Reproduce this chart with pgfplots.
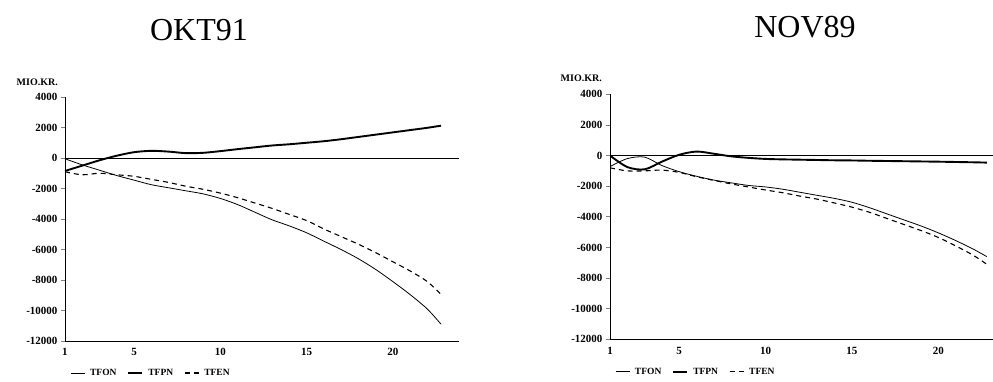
\documentclass[border=0pt]{standalone}
\usepackage{fontspec}
\setmainfont{Liberation Serif}
\usepackage{pgfplots}
\pgfplotsset{compat=1.18}
\usepackage{pgfplotstable}

% Left chart (OKT91)
\pgfplotstableread{
x tfon tfpn tfen
1 -50 -850 -900
2 -450 -500 -1100
3 -800 -150 -1000
4 -1150 150 -1100
5 -1450 380 -1200
6 -1750 470 -1400
7 -1950 420 -1600
8 -2150 320 -1850
9 -2350 340 -2050
10 -2650 450 -2300
11 -3050 580 -2600
12 -3550 700 -2950
13 -4050 820 -3300
14 -4450 900 -3700
15 -4900 1000 -4100
16 -5450 1100 -4650
17 -6000 1230 -5150
18 -6600 1380 -5650
19 -7300 1530 -6200
20 -8100 1680 -6800
21 -8950 1830 -7400
22 -9900 1980 -8100
22.8 -10900 2120 -8950
}\okt

% Right chart (NOV89)
\pgfplotstableread{
x tfon tfpn tfen
1 -720 0 -800
2 -200 -750 -1000
3 -100 -900 -1000
4 -650 -400 -950
5 -1050 50 -1100
6 -1350 260 -1380
7 -1600 120 -1620
8 -1780 -50 -1850
9 -1950 -150 -2050
10 -2050 -220 -2250
11 -2200 -250 -2430
12 -2400 -270 -2650
13 -2600 -290 -2850
14 -2800 -310 -3100
15 -3050 -320 -3370
16 -3400 -340 -3700
17 -3800 -355 -4100
18 -4200 -370 -4500
19 -4600 -385 -4900
20 -5050 -400 -5350
21 -5550 -420 -5900
22 -6100 -440 -6500
22.8 -6600 -460 -7100
}\nov

\pgfplotsset{
  mystyle/.style={
    scale only axis,
    ymin=-12000, ymax=4000,
    xmin=1,
    scaled y ticks=false, scaled x ticks=false,
    axis x line=bottom, axis y line=left,
    axis line style={-, line width=0.8pt},
    ytick={-12000,-10000,-8000,-6000,-4000,-2000,0,2000,4000},
    yticklabels={-12000,-10000,-8000,-6000,-4000,-2000,0,2000,4000},
    xtick={1,5,10,15,20},
    xticklabels={1,5,10,15,20},
    tick align=outside,
    major tick length=4pt,
    x tick style={draw=none},
    y tick style={line width=0.8pt},
    tick label style={font=\fontsize{11}{11}\selectfont\bfseries},
    legend columns=3,
    legend style={draw=none, fill=none, font=\fontsize{9.5}{10}\selectfont\bfseries,
      inner sep=0pt, column sep=3pt, /tikz/every even column/.append style={column sep=9pt}},
    legend image code/.code={\draw[#1] (0pt,0pt) -- (14pt,0pt);},
    clip=true,
  },
  tfon/.style={black, line width=0.8pt, smooth},
  tfpn/.style={black, line width=1.9pt, smooth},
  tfen/.style={black, line width=1.1pt, dash pattern=on 5pt off 4pt, smooth},
}

\begin{document}
\begin{tikzpicture}
\useasboundingbox (0pt,0pt) rectangle (993pt,-381pt);

\node[anchor=base, font=\fontsize{32}{32}\selectfont] at (199pt,-40pt) {OKT91};
\node[anchor=base, font=\fontsize{32}{32}\selectfont] at (805pt,-37pt) {NOV89};

\node[anchor=east, inner sep=0pt, font=\fontsize{10}{10}\selectfont\bfseries] at (58pt,-82pt) {MIO.KR.};
\node[anchor=east, inner sep=0pt, font=\fontsize{10}{10}\selectfont\bfseries] at (602pt,-78pt) {MIO.KR.};

\begin{axis}[mystyle, at={(65pt,-341pt)}, anchor=south west,
  width=394pt, height=244pt, xmax=23.84,
  legend style={at={(axis description cs:0.013,-0.131)}, anchor=west}]
  \addplot[forget plot, black, line width=0.8pt] coordinates {(1,0) (23.84,0)};
  \addplot[tfon] table[x=x, y=tfon] {\okt};
  \addplot[tfpn] table[x=x, y=tfpn] {\okt};
  \addplot[tfen] table[x=x, y=tfen] {\okt};
  \legend{TFON, TFPN, TFEN}
\end{axis}

\begin{axis}[mystyle, at={(610pt,-339.3pt)}, anchor=south west,
  width=383pt, height=245pt, xmax=23.16,
  legend style={at={(axis description cs:0.013,-0.133)}, anchor=west}]
  \addplot[forget plot, black, line width=0.8pt] coordinates {(1,0) (23.16,0)};
  \addplot[tfon] table[x=x, y=tfon] {\nov};
  \addplot[tfpn] table[x=x, y=tfpn] {\nov};
  \addplot[tfen] table[x=x, y=tfen] {\nov};
  \legend{TFON, TFPN, TFEN}
\end{axis}
\end{tikzpicture}
\end{document}
